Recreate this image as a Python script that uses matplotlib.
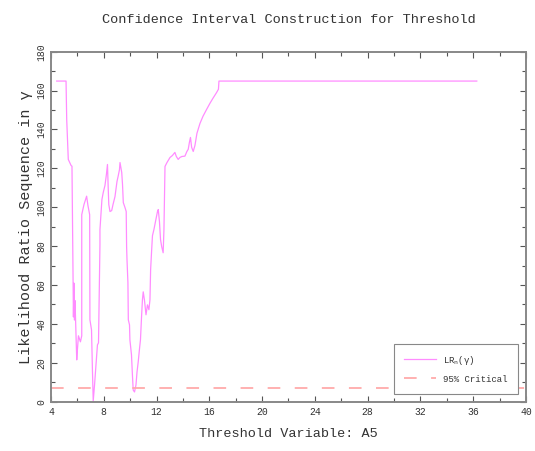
import matplotlib
matplotlib.use("Agg")
import matplotlib.pyplot as plt
from matplotlib.ticker import MultipleLocator

# Likelihood ratio sequence (threshold value, LR)
threshold = [4.43, 5.14, 5.19, 5.31, 5.52, 5.59, 5.7, 5.74, 5.78, 5.82, 5.95,
             6.0, 6.08, 6.23, 6.33, 6.33, 6.5, 6.7, 6.8, 6.93,
             6.95, 7.07, 7.14, 7.2, 7.3, 7.41, 7.52, 7.6,
             7.71, 7.71, 7.86, 7.96, 8.09, 8.2, 8.28, 8.34, 8.38, 8.47, 8.6, 8.7,
             8.85, 9.0, 9.1, 9.19, 9.23, 9.36, 9.42, 9.48, 9.61, 9.7,
             9.73, 9.76, 9.83, 9.86, 9.95, 9.98, 10.1, 10.17, 10.23, 10.33, 10.44,
             10.52, 10.61, 10.7, 10.78, 10.87, 10.93, 10.99, 11.08, 11.2, 11.31,
             11.42, 11.5, 11.55, 11.63, 11.69, 11.8, 11.95, 12.07, 12.13, 12.22,
             12.3, 12.39, 12.5, 12.56, 12.64, 12.79, 13.02, 13.2, 13.39, 13.5,
             13.64, 13.77, 13.92, 14.15, 14.3, 14.4, 14.49, 14.57, 14.66, 14.78,
             14.91, 15.06, 15.29, 15.52, 15.8, 16.05, 16.27, 16.55, 16.69, 16.73,
             36.27]
lr = [164.9, 164.9, 145.2, 124.6, 121.5, 121.1, 43.6, 61.0, 42.0, 52.0, 21.5,
      26.6, 33.9, 30.8, 33.9, 96.2, 101.4, 105.7, 100.9, 96.2,
      42.1, 37.0, 16.3, 0.4, 8.6, 19.0, 29.2, 30.3,
      80.8, 88.5, 104.0, 107.6, 111.2, 116.9, 122.0, 109.1, 101.4, 97.8, 98.3, 101.4,
      105.5, 113.2, 116.3, 119.4, 123.0, 117.9, 111.7, 102.4, 99.8, 97.8,
      79.7, 73.0, 61.2, 42.1, 39.5, 31.8, 24.1, 13.8, 6.0, 5.0, 8.6,
      15.3, 20.5, 26.7, 31.8, 44.7, 52.4, 56.5, 52.4, 44.7, 49.8,
      47.3, 52.4, 67.9, 78.2, 85.4, 88.5, 93.7, 97.8, 98.8, 92.6,
      83.4, 79.7, 76.6, 88.5, 121.0, 123.0, 125.6, 126.6, 128.2, 126.1,
      124.6, 125.6, 126.1, 126.3, 128.7, 129.8, 133.4, 135.9, 130.8, 128.7,
      131.8, 138.0, 143.1, 146.8, 150.4, 153.5, 156.0, 159.0, 160.7, 164.9,
      164.9]
critical_value = 7.2

title = "Confidence Interval Construction for Threshold"
xlabel = "Threshold Variable: A5"
ylabel = "Likelihood Ratio Sequence in \u03b3"
series_labels = ["LR$_n$(\u03b3)", "95% Critical"]

mono = ["Liberation Mono", "DejaVu Sans Mono"]
plt.rcParams["font.family"] = mono
plt.rcParams["mathtext.fontset"] = "custom"
plt.rcParams["mathtext.rm"] = "Liberation Mono"
plt.rcParams["mathtext.it"] = "Liberation Mono"

fig = plt.figure(figsize=(5.35, 4.51), dpi=100)
ax = fig.add_axes([51 / 535, 1 - 401.7 / 451, 475 / 535, 350 / 451])

ax.plot(threshold, lr, color="#ff8cff", lw=0.9, label=series_labels[0])
ax.axhline(critical_value, color="#ffaaaa", lw=1.3, dashes=(7, 8),
           label=series_labels[1])

ax.set_xlim(4, 40)
ax.set_ylim(0, 180)
ax.xaxis.set_major_locator(MultipleLocator(4))
ax.xaxis.set_minor_locator(MultipleLocator(2))
ax.yaxis.set_major_locator(MultipleLocator(20))
ax.yaxis.set_minor_locator(MultipleLocator(10))
ax.tick_params(which="both", direction="in", top=True, right=True,
               color="#555555", width=0.8, labelsize=7, labelcolor="#333333")
ax.tick_params(which="major", length=4)
ax.tick_params(which="minor", length=3)
for lab in ax.get_yticklabels():
    lab.set_rotation(90)
    lab.set_va("center")
for s in ax.spines.values():
    s.set_color("#888888")
    s.set_linewidth(1.4)

ax.set_title(title, fontsize=9.7, color="#333333", pad=21)
ax.set_xlabel(xlabel, fontsize=9.7, color="#333333", labelpad=8)
ax.set_ylabel(ylabel, fontsize=10.9, color="#333333", labelpad=2)

leg = ax.legend(loc="lower right", fontsize=6.5, fancybox=False,
                edgecolor="#888888", framealpha=1, handlelength=3.6,
                borderaxespad=0.9, borderpad=1.1, labelspacing=0.9,
                labelcolor="#333333")
leg.get_frame().set_linewidth(0.8)

fig.savefig("out.png", dpi=100)
